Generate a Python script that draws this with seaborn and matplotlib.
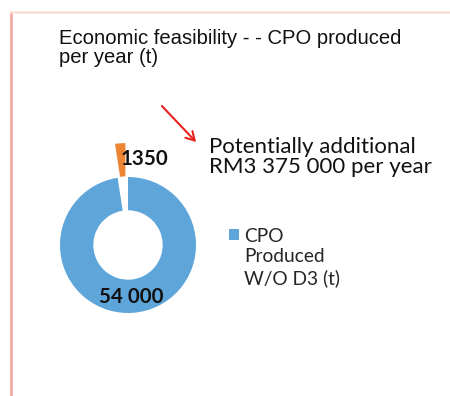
import matplotlib
matplotlib.use("Agg")
import matplotlib.pyplot as plt
from matplotlib.lines import Line2D
from matplotlib.patches import Patch, Rectangle, FancyArrowPatch
from matplotlib.legend_handler import HandlerPatch
import seaborn as sns

# CPO output per year (t)
categories = ["CPO Produced\nW/O D3 (t)", "Additional CPO (t)"]
values = [54000, 1350]
value_labels = ["54 000", "1350"]
explode = [0.0, 0.5]
colors = ["#5ea5da", "#ee8535"]

title = "Economic feasibility - - CPO produced\nper year (t)"
note = "Potentially additional\nRM3 375 000 per year"
legend_label = "CPO\nProduced\nW/O D3 (t)"

sns.set_theme(style="white")
plt.rcParams["font.family"] = ["Lato", "DejaVu Sans"]

W, H = 450, 396
fig = plt.figure(figsize=(W / 100, H / 100), dpi=100)
fig.patch.set_facecolor("white")

# slide frame lines
fig.add_artist(Line2D([11 / W, 11 / W], [0, 1 - 12 / H], color="#f4a29a", lw=1.8,
                      transform=fig.transFigure))
fig.add_artist(Line2D([11 / W, 1], [1 - 11.5 / H, 1 - 11.5 / H], color="#fbe0d6", lw=1.8,
                      transform=fig.transFigure))

# donut axes: radius 1 -> 68 px, centred at (128, 245)
L = 1.6
R = 68
cx, cy = 128, 245
aw = 2 * L * R
ax = fig.add_axes([(cx - aw / 2) / W, (H - cy - aw / 2) / H, aw / W, aw / H])
wedges, _ = ax.pie(values, colors=colors, startangle=90, counterclock=False,
                   explode=explode, wedgeprops=dict(width=0.49, linewidth=0))
ax.set_xlim(-L, L)
ax.set_ylim(-L, L)
ax.set_aspect("auto")
ax.axis("off")

ax.text(0.05, -0.76, value_labels[0], ha="center", va="center",
        fontsize=14.8, fontweight="bold", color="#111111")
ax.text(0.24, 1.27, value_labels[1], ha="center", va="center",
        fontsize=14.8, fontweight="bold", color="#111111")

fig.text(59 / W, 1 - 29 / H, title, ha="left", va="top", fontsize=14.6,
         family=["Liberation Sans", "DejaVu Sans"], color="#111111", linespacing=1.02)

fig.text(209 / W, 1 - 137 / H, note, ha="left", va="top", fontsize=16,
         color="#111111", linespacing=1.02)

fig.add_artist(FancyArrowPatch(
    (160 / W, 1 - 104 / H), (198 / W, 1 - 144 / H), transform=fig.transFigure,
    arrowstyle="->,head_length=6,head_width=3.5", color="#e8231f", lw=1.5))


class TopLinePatch(HandlerPatch):
    """Legend key placed beside the first line of a multi-line label."""

    def __init__(self, shift, **kw):
        super().__init__(**kw)
        self.shift = shift

    def create_artists(self, legend, orig_handle, xdescent, ydescent, width, height,
                       fontsize, trans):
        p = Rectangle((-xdescent, -ydescent + self.shift * fontsize), width, height)
        self.update_prop(p, orig_handle, legend)
        p.set_transform(trans)
        return [p]


leg_fs = 13.8
leg = fig.legend(handles=[Patch(facecolor=colors[0], edgecolor="none")], labels=[legend_label],
                 loc="upper left", bbox_to_anchor=(229 / W, 1 - 228 / H), frameon=False,
                 fontsize=leg_fs, handlelength=0.5, handleheight=0.5, handletextpad=0.3,
                 borderpad=0, borderaxespad=0, labelspacing=0,
                 handler_map={Patch: TopLinePatch(shift=1.2)})
plt.setp(leg.get_texts(), linespacing=1.25)

fig.savefig("out.png", dpi=100, facecolor="white")
